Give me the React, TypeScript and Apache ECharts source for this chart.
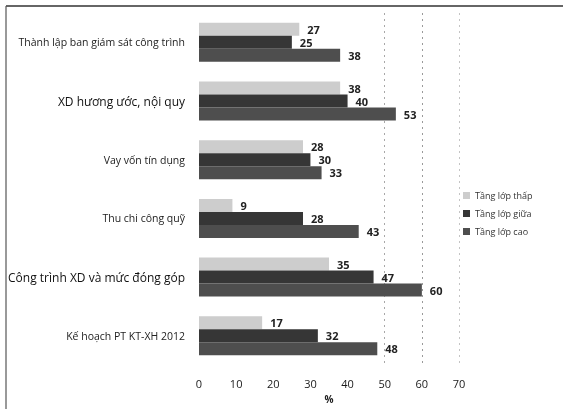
import React, { useEffect, useRef } from "react";
import * as echarts from "echarts";

const categories = [
  "Thành lập ban giám sát công trình",
  "XD hương ước, nội quy",
  "Vay vốn tín dụng",
  "Thu chi công quỹ",
  "Công trình XD và mức đóng góp",
  "Kế hoạch PT KT-XH 2012",
];
const bigLabels = ["XD hương ước, nội quy", "Công trình XD và mức đóng góp"];
const seriesNames = ["Tầng lớp thấp", "Tầng lớp giữa", "Tầng lớp cao"];
const lowValues = [27, 38, 28, 9, 35, 17];
const midValues = [25, 40, 30, 28, 47, 32];
const highValues = [38, 53, 33, 43, 60, 48];
const xTicks = [0, 10, 20, 30, 40, 50, 60, 70];

export default function App() {
  const ref = useRef<HTMLDivElement>(null);
  useEffect(() => {
    if (!ref.current) return;
    const chart = echarts.init(ref.current, null, { renderer: "svg" });
    const colors = ["#cdcdcd", "#363636", "#4e4e4e"];
    const values = [lowValues, midValues, highValues];
    const font = "'Open Sans', 'Noto Sans', sans-serif";
    chart.setOption({
      animation: false,
      textStyle: { fontFamily: font },
      grid: { left: 199, right: 104, top: 13, bottom: 34, containLabel: false },
      legend: {
        orient: "vertical",
        left: 458,
        top: 186,
        itemWidth: 7,
        itemHeight: 7,
        itemGap: 9,
        icon: "rect",
        textStyle: { fontSize: 9, color: "#333", fontFamily: font },
        data: seriesNames,
      },
      xAxis: {
        type: "value",
        min: xTicks[0],
        max: xTicks[xTicks.length - 1],
        interval: 10,
        name: "%",
        nameLocation: "middle",
        nameGap: 25,
        nameTextStyle: { fontSize: 10, fontWeight: "bold", color: "#222" },
        axisLine: { show: false },
        axisTick: { show: false },
        axisLabel: { fontSize: 11, color: "#1a1a1a", margin: 13 },
        splitLine: {
          show: true,
          lineStyle: {
            type: [2, 4],
            width: 1,
            color: ["rgba(0,0,0,0)", "rgba(0,0,0,0)", "rgba(0,0,0,0)", "rgba(0,0,0,0)", "rgba(0,0,0,0)", "#a8a8a8", "#9a9a9a", "#c4c4c4"],
          },
        },
      },
      yAxis: {
        type: "category",
        data: categories,
        inverse: true,
        axisLine: { show: false },
        axisTick: { show: false },
        axisLabel: {
          margin: 14,
          formatter: (v: string) => (bigLabels.includes(v) ? `{b|${v}}` : `{s|${v}}`),
          rich: {
            s: { fontSize: 10.5, color: "#222", fontFamily: font },
            b: { fontSize: 12, color: "#111", fontFamily: font },
          },
        },
      },
      series: seriesNames.map((name, i) => ({
        name,
        type: "bar",
        data: values[i],
        barWidth: 13,
        barGap: "0%",
        itemStyle: { color: colors[i] },
        label: {
          show: true,
          position: "right",
          distance: 8,
          fontSize: 11,
          fontWeight: "bold",
          color: "#222",
        },
      })),
      graphic: [
        { type: "line", shape: { x1: 6, y1: 6, x2: 563, y2: 6 }, style: { stroke: "#333", lineWidth: 1.5 } },
        { type: "line", shape: { x1: 6, y1: 6, x2: 6, y2: 409 }, style: { stroke: "#555", lineWidth: 1.2 } },
      ],
    });
    return () => chart.dispose();
  }, []);
  return <div ref={ref} style={{ width: 563, height: 409, position: "fixed", left: 0, top: 0 }} />;
}
